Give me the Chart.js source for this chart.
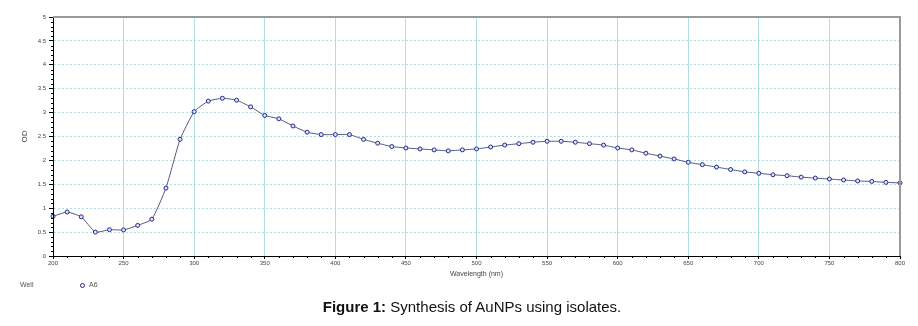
<!DOCTYPE html>
<html>
<head>
<meta charset="utf-8">
<script src="https://cdn.jsdelivr.net/npm/chart.js@4.4.1/dist/chart.umd.min.js"></script>
<style>
  html, body { margin: 0; padding: 0; background: #fff; overflow: hidden; }
  #wrap { position: relative; width: 918px; height: 326px; }
  #c { position: absolute; left: 0; top: 0; }
  .legend { position: absolute; top: 281px; font: 7px "Liberation Sans", Arial, sans-serif; color: #555; }
  .legend .dot { display: inline-block; width: 3px; height: 3px; border: 1px solid #1e2a8c; border-radius: 50%; vertical-align: middle; margin-right: 4px; }
  .caption { position: absolute; top: 298px; left: 0; width: 944px; text-align: center;
             font: 15px "Liberation Sans", Arial, sans-serif; color: #111; }
</style>
</head>
<body>
<div id="wrap">
  <canvas id="c" width="918" height="326"></canvas>
  <div class="legend" style="left:20px">Well</div>
  <div class="legend" style="left:80px"><span class="dot"></span>A6</div>
  <div class="caption"><b>Figure 1:</b> Synthesis of AuNPs using isolates.</div>
</div>
<script>
// Absorbance spectrum of well A6, sampled every 10 nm
const wavelengths = [200,210,220,230,240,250,260,270,280,290,
                     300,310,320,330,340,350,360,370,380,390,
                     400,410,420,430,440,450,460,470,480,490,
                     500,510,520,530,540,550,560,570,580,590,
                     600,610,620,630,640,650,660,670,680,690,
                     700,710,720,730,740,750,760,770,780,790,800];
const odA6 = [0.83,0.92,0.82,0.50,0.55,0.545,0.64,0.77,1.42,2.44,
              3.02,3.24,3.30,3.26,3.12,2.94,2.87,2.72,2.59,2.54,
              2.54,2.54,2.44,2.36,2.29,2.26,2.24,2.22,2.20,2.22,
              2.24,2.28,2.32,2.35,2.38,2.40,2.40,2.38,2.35,2.32,
              2.26,2.22,2.15,2.09,2.03,1.96,1.91,1.86,1.81,1.76,
              1.73,1.70,1.68,1.65,1.63,1.61,1.59,1.57,1.56,1.54,1.53];
const seriesName = 'A6';
const xTitle = 'Wavelength (nm)';
const yTitle = 'OD';

const gridTeal = '#b2dde2';
const tickFont = { family: '"Liberation Sans", Arial, sans-serif', size: 6 };

// Minor ticks on both axes plus the grey frame on the top and right edges
const framePlugin = {
  id: 'frame',
  afterDraw(chart) {
    const { ctx, chartArea: a, scales: { x, y } } = chart;
    ctx.save();
    ctx.strokeStyle = '#000';
    ctx.lineWidth = 1;
    ctx.setLineDash([]);
    ctx.beginPath();
    for (let v = 200; v <= 800; v += 10) {
      if (v % 50 === 0) continue;
      const px = Math.round(x.getPixelForValue(v)) + 0.5;
      ctx.moveTo(px, a.bottom);
      ctx.lineTo(px, a.bottom + 2);
    }
    for (let i = 0; i <= 50; i++) {
      if (i % 5 === 0) continue;
      const py = Math.round(y.getPixelForValue(i / 10)) + 0.5;
      ctx.moveTo(a.left - 2, py);
      ctx.lineTo(a.left, py);
    }
    // solid left and bottom axis lines
    ctx.moveTo(a.left + 0.5, a.top);
    ctx.lineTo(a.left + 0.5, a.bottom + 0.5);
    ctx.lineTo(a.right, a.bottom + 0.5);
    ctx.stroke();
    ctx.strokeStyle = '#9a9a9a';
    ctx.lineWidth = 2;
    ctx.beginPath();
    ctx.moveTo(a.left, a.top);
    ctx.lineTo(a.right, a.top);
    ctx.lineTo(a.right, a.bottom);
    ctx.stroke();
    ctx.restore();
  }
};

new Chart(document.getElementById('c'), {
  type: 'line',
  data: {
    labels: wavelengths,
    datasets: [{
      label: seriesName,
      data: wavelengths.map((w, i) => ({ x: w, y: odA6[i] })),
      borderColor: '#55557f',
      borderWidth: 1,
      pointRadius: 2,
      pointBorderWidth: 1,
      pointBorderColor: '#1e2a8c',
      pointBackgroundColor: '#dfe3f5',
      tension: 0.15,
      clip: false
    }]
  },
  options: {
    responsive: false,
    animation: false,
    layout: { padding: { left: 20, right: 18, top: 17, bottom: 48 } },
    plugins: { legend: { display: false }, tooltip: { enabled: false } },
    scales: {
      x: {
        type: 'linear', min: 200, max: 800,
        afterFit(s) { s.height = 22; },
        ticks: { stepSize: 50, font: tickFont, color: '#444', padding: 1, maxRotation: 0 },
        grid: { color: gridTeal, lineWidth: 1, tickLength: 3, tickColor: '#000' },
        border: { color: '#000', width: 1 },
        title: { display: true, text: xTitle, font: { family: '"Liberation Sans", Arial, sans-serif', size: 7 }, color: '#444', padding: 0 }
      },
      y: {
        min: 0, max: 5,
        afterFit(s) { s.width = 33; },
        ticks: { stepSize: 0.5, font: tickFont, color: '#444', padding: 3,
                 callback: v => String(Number(v.toFixed(1))) },
        grid: { color: gridTeal, lineWidth: 1, tickLength: 4, tickColor: '#000', tickBorderDash: [] },
        border: { color: '#000', width: 1, dash: [2, 2] },
        title: { display: true, text: yTitle, font: { family: '"Liberation Sans", Arial, sans-serif', size: 8 }, color: '#444', padding: 0 }
      }
    }
  },
  plugins: [framePlugin]
});
</script>
</body>
</html>
